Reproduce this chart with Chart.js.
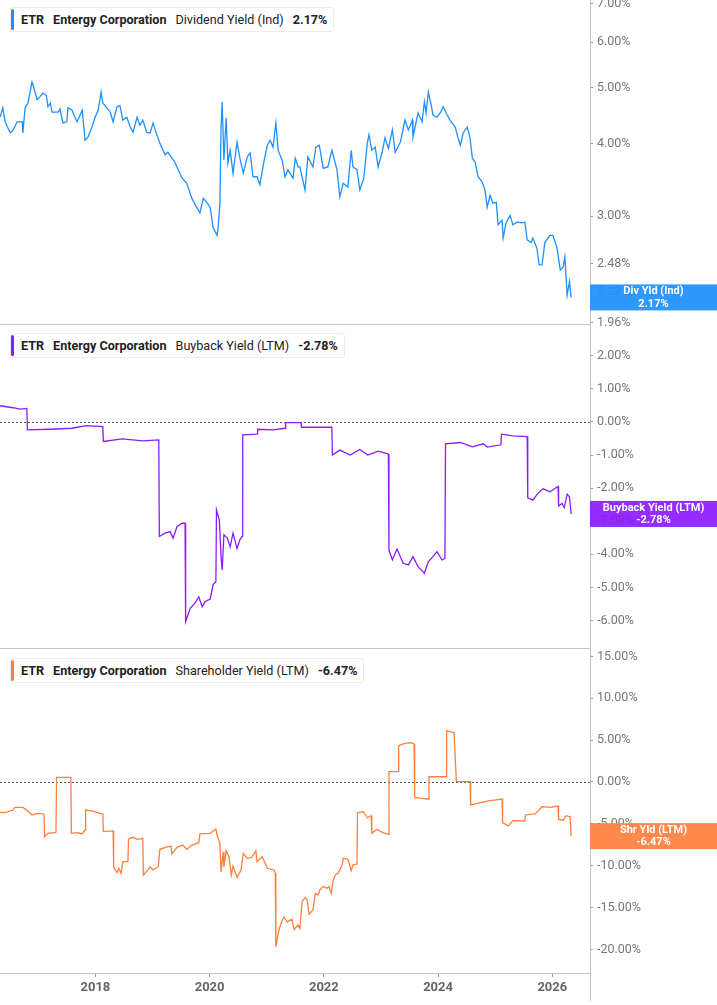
<!DOCTYPE html>
<html>
<head>
<meta charset="utf-8">
<script src="https://cdn.jsdelivr.net/npm/chart.js@4.4.1/dist/chart.umd.min.js"></script>
<style>
html, body { margin: 0; padding: 0; background: #fff; }
body { width: 717px; height: 1005px; position: relative; overflow: hidden; font-family: Roboto, "Noto Sans", sans-serif; }
canvas { position: absolute; left: 0; }
.legend { position: absolute; left: 10px; height: 25px; display: flex; align-items: center; background: #fff;
  border: 1px solid #ececec; border-radius: 3px; padding: 0 6px 0 10px; font-size: 12.6px; color: #222;
  white-space: nowrap; z-index: 5; box-sizing: border-box; }
.legend::before { content: ''; position: absolute; left: 0; top: 1px; bottom: 1px; width: 3px; border-radius: 2px; background: var(--c); }
.legend span { margin-right: 9px; }
.legend span:last-child { margin-right: 0; }
.legend .b { font-weight: 700; }
</style>
</head>
<body>
<canvas id="c3" width="717" height="356" style="top:649px"></canvas>
<canvas id="c2" width="717" height="335" style="top:325px"></canvas>
<canvas id="c1" width="717" height="335" style="top:0px"></canvas>

<div class="legend" style="top:7px;--c:#1e90ff"><span class="b">ETR</span><span class="b">Entergy Corporation</span><span>Dividend Yield (Ind)</span><span class="b">2.17%</span></div>
<div class="legend" style="top:333px;--c:#8c1cff"><span class="b">ETR</span><span class="b">Entergy Corporation</span><span>Buyback Yield (LTM)</span><span class="b">-2.78%</span></div>
<div class="legend" style="top:658px;--c:#ff7f3f"><span class="b">ETR</span><span class="b">Entergy Corporation</span><span>Shareholder Yield (LTM)</span><span class="b">-6.47%</span></div>

<script>
// dates are decimal years
const divDates = [2016.33,2016.38,2016.42,2016.51,2016.56,2016.63,2016.72,2016.73,2016.77,2016.82,2016.89,2016.91,2016.98,
  2017.03,2017.08,2017.14,2017.17,2017.21,2017.24,2017.35,2017.38,2017.43,2017.50,2017.52,2017.59,2017.64,2017.68,2017.77,2017.82,2017.87,2017.94,2017.99,
  2018.05,2018.10,2018.13,2018.20,2018.26,2018.31,2018.38,2018.43,2018.48,2018.55,2018.61,2018.66,2018.73,2018.78,2018.83,2018.90,2018.96,
  2019.01,2019.06,2019.13,2019.22,2019.27,2019.34,2019.39,2019.45,2019.52,2019.60,2019.69,2019.78,2019.83,2019.89,2019.96,
  2020.01,2020.06,2020.13,2020.15,2020.18,2020.20,2020.22,2020.25,2020.29,2020.32,2020.36,2020.41,2020.48,2020.53,2020.59,2020.66,2020.71,2020.76,2020.83,2020.88,2020.94,
  2021.01,2021.06,2021.11,2021.16,2021.20,2021.27,2021.32,2021.37,2021.46,2021.50,2021.55,2021.58,2021.67,2021.72,2021.81,2021.86,2021.92,2021.99,
  2022.07,2022.14,2022.23,2022.28,2022.34,2022.42,2022.48,2022.51,2022.58,2022.63,2022.70,2022.76,2022.79,2022.84,2022.90,2022.95,
  2023.02,2023.07,2023.13,2023.20,2023.25,2023.34,2023.42,2023.48,2023.55,2023.56,2023.65,2023.72,2023.76,2023.79,2023.83,2023.88,2023.91,2023.98,
  2024.04,2024.09,2024.16,2024.21,2024.30,2024.35,2024.39,2024.44,2024.51,2024.56,2024.60,2024.65,2024.70,2024.77,2024.82,2024.86,2024.91,2024.96,
  2025.02,2025.05,2025.12,2025.14,2025.19,2025.26,2025.31,2025.38,2025.47,2025.52,2025.56,2025.63,2025.66,2025.73,2025.77,2025.82,2025.87,2025.96,
  2026.01,2026.08,2026.14,2026.19,2026.22,2026.26,2026.30,2026.33];
const divValues = [4.45,4.62,4.37,4.18,4.23,4.37,4.37,4.18,4.62,4.71,5.12,5.06,4.77,
  4.83,4.90,4.86,4.64,4.71,4.54,4.54,4.60,4.35,4.37,4.62,4.58,4.45,4.37,4.58,4.06,4.11,4.28,4.44,
  4.58,4.92,4.71,4.62,4.54,4.37,4.64,4.66,4.40,4.45,4.28,4.19,4.45,4.31,4.40,4.19,4.18,
  4.35,4.19,4.01,3.83,3.87,3.78,3.72,3.61,3.49,3.42,3.22,3.10,3.04,3.22,3.16,
  3.11,2.87,2.78,2.87,3.16,4.26,4.73,3.75,4.44,3.71,3.90,3.56,4.03,3.78,3.56,3.80,3.86,3.51,3.51,3.40,3.68,
  3.98,4.06,3.95,4.35,3.90,3.75,3.51,3.61,3.49,3.78,3.65,3.65,3.33,3.80,3.65,3.95,3.98,3.63,
  3.65,3.90,3.61,3.24,3.42,3.37,3.90,3.65,3.61,3.33,3.49,4.01,4.15,3.90,3.95,3.65,
  3.87,4.10,3.93,4.23,3.87,4.03,4.40,4.23,4.40,4.11,4.53,4.37,4.73,4.53,4.92,4.67,4.49,4.45,
  4.53,4.64,4.49,4.40,4.28,4.10,3.98,4.18,4.28,4.10,3.78,3.72,3.51,3.44,3.33,3.11,3.26,3.16,
  3.17,2.90,2.95,2.75,2.92,3.01,2.90,2.93,2.92,2.93,2.73,2.70,2.75,2.64,2.47,2.47,2.70,2.78,
  2.78,2.65,2.42,2.45,2.55,2.19,2.31,2.17];

const buyDates = [2016.33,2016.56,2016.68,2016.80,2016.81,2017.21,2017.59,2017.84,2018.13,2018.14,2018.47,2018.83,2019.11,
  2019.12,2019.22,2019.31,2019.36,2019.43,2019.52,2019.57,2019.58,2019.66,2019.74,2019.81,2019.87,2019.92,
  2020.01,2020.06,2020.11,2020.12,2020.17,2020.20,2020.22,2020.25,2020.31,2020.36,2020.41,2020.48,2020.53,2020.57,2020.58,
  2020.83,2020.84,2021.11,2021.32,2021.33,2021.60,2021.61,2022.14,2022.15,2022.28,2022.46,2022.63,2022.77,2022.95,2023.13,
  2023.14,2023.20,2023.28,2023.39,2023.48,2023.56,2023.65,2023.76,2023.83,2023.91,2023.98,2024.07,2024.12,
  2024.13,2024.39,2024.60,2024.79,2024.86,2025.10,2025.11,2025.31,2025.56,
  2025.57,2025.66,2025.75,2025.84,2025.96,2026.10,2026.11,2026.17,2026.21,2026.26,2026.30,2026.33];
const buyValues = [0.49,0.43,0.39,0.41,-0.24,-0.22,-0.19,-0.11,-0.14,-0.59,-0.51,-0.57,-0.54,
  -3.46,-3.36,-3.31,-3.51,-3.16,-3.06,-3.06,-6.03,-5.63,-5.48,-5.28,-5.58,-5.43,
  -5.35,-4.92,-4.82,-2.66,-2.96,-4.07,-4.47,-3.41,-3.51,-3.77,-3.36,-3.82,-3.56,-3.46,-0.39,
  -0.37,-0.22,-0.24,-0.19,-0.02,-0.02,-0.16,-0.16,-1.00,-0.85,-1.00,-0.83,-1.00,-0.88,-0.97,
  -3.87,-4.17,-3.84,-4.27,-4.32,-4.07,-4.37,-4.57,-4.22,-4.07,-3.92,-4.17,-4.12,
  -0.66,-0.62,-0.75,-0.66,-0.76,-0.69,-0.37,-0.42,-0.44,
  -2.29,-2.36,-2.15,-2.02,-2.11,-1.95,-2.54,-2.46,-2.59,-2.18,-2.26,-2.78];

const shrDates = [2016.33,2016.42,2016.56,2016.59,2016.73,2016.80,2016.89,2016.98,2017.10,2017.11,2017.17,2017.31,
  2017.32,2017.57,2017.58,2017.68,2017.77,2017.82,2017.83,2017.94,2018.08,2018.13,2018.14,2018.31,
  2018.32,2018.38,2018.41,2018.45,2018.48,2018.57,2018.58,2018.66,2018.73,2018.83,2018.84,2018.92,2018.96,2019.01,2019.10,
  2019.13,2019.22,2019.32,2019.34,2019.43,2019.53,2019.60,2019.69,2019.81,2019.83,2020.01,2020.11,2020.13,2020.18,
  2020.20,2020.24,2020.25,2020.29,2020.34,2020.38,2020.41,2020.48,2020.55,2020.59,2020.66,2020.74,2020.81,2020.83,2020.92,
  2021.01,2021.13,2021.15,2021.16,2021.22,2021.30,2021.36,2021.44,2021.48,2021.55,2021.58,2021.62,2021.67,2021.71,2021.74,
  2021.81,2021.85,2021.90,2021.93,2021.99,2022.06,2022.09,2022.13,2022.16,2022.20,2022.25,2022.32,2022.34,2022.42,2022.48,
  2022.51,2022.58,2022.59,2022.69,2022.76,2022.83,2022.84,2022.93,2023.02,2023.13,2023.14,2023.30,2023.31,2023.42,2023.51,
  2023.58,2023.59,2023.72,2023.83,2023.84,2024.14,2024.15,2024.21,2024.28,2024.32,2024.56,2024.57,2024.74,2024.91,2025.12,
  2025.13,2025.23,2025.31,2025.52,2025.53,2025.70,2025.82,2025.96,2026.10,2026.11,2026.19,2026.24,2026.31,2026.33];
const shrValues = [-3.62,-3.67,-3.35,-3.03,-3.03,-3.35,-3.94,-3.74,-3.82,-6.53,-6.13,-6.01,
  0.56,0.56,-6.13,-6.06,-6.21,-5.73,-3.35,-3.46,-3.74,-3.82,-5.93,-5.85,
  -10.20,-10.83,-10.31,-10.91,-9.52,-9.52,-6.81,-6.61,-6.85,-6.73,-11.11,-10.51,-10.12,-10.51,-10.12,
  -8.04,-7.80,-7.65,-8.60,-7.80,-7.53,-8.04,-7.53,-7.25,-6.21,-6.13,-5.62,-6.33,-7.33,
  -10.71,-8.33,-10.12,-8.21,-8.92,-11.11,-10.04,-11.39,-10.51,-8.52,-9.12,-9.00,-8.21,-9.52,-8.92,
  -10.31,-10.51,-10.91,-19.68,-17.48,-16.10,-16.70,-16.40,-17.60,-17.10,-17.50,-14.30,-13.80,-14.10,-15.80,
  -15.30,-13.30,-13.50,-12.90,-12.50,-12.70,-12.50,-13.30,-11.90,-11.10,-10.90,-9.90,-9.10,-9.20,-10.60,
  -9.90,-9.80,-3.67,-3.55,-4.27,-4.03,-6.13,-5.65,-6.01,-6.25,1.23,1.23,4.34,4.62,4.70,
  4.54,-1.83,-1.95,-2.03,0.63,0.63,6.13,6.01,5.89,0.04,0.04,-2.75,-2.47,-2.23,-2.03,
  -4.86,-5.26,-4.62,-4.66,-3.94,-3.82,-2.95,-3.02,-2.87,-4.46,-4.54,-4.03,-4.15,-6.47];

const yearTicks = [2018, 2020, 2022, 2024, 2026];
const divTicks = [1.96, 2.22, 2.48, 3, 4, 5, 6, 7];
const buyTicks = [-6, -5, -4, -3, -2, -1, 0, 1, 2];
const shrTicks = [-20, -15, -10, -5, 0, 5, 10, 15];

const FONT = 'Roboto, "Noto Sans", sans-serif';
const X_MIN = 2016.33, X_MAX = 2026.66;

function points(dates, values) {
  return dates.map((d, i) => ({ x: d, y: values[i] }));
}

// right-hand tag with the last value
const tagPlugin = {
  id: 'tag',
  afterDraw(chart, args, opts) {
    const { ctx, chartArea: a } = chart;
    const y = chart.scales.y.getPixelForValue(opts.value);
    const cx = (a.right + chart.width) / 2;
    ctx.save();
    ctx.globalAlpha = 0.93;
    ctx.fillStyle = opts.color;
    ctx.fillRect(a.right, y - 13, chart.width - a.right, 26);
    ctx.globalAlpha = 1;
    ctx.fillStyle = '#fff';
    ctx.font = 'bold 11px ' + FONT;
    ctx.textAlign = 'center';
    ctx.textBaseline = 'middle';
    ctx.fillText(opts.label, cx, y - 6);
    ctx.fillText(opts.text, cx, y + 6.5);
    ctx.restore();
  }
};

// zero line and panel separators
const framePlugin = {
  id: 'frame',
  beforeDatasetsDraw(chart, args, opts) {
    const { ctx, chartArea: a } = chart;
    ctx.save();
    if (opts.zero) {
      const y = Math.round(chart.scales.y.getPixelForValue(0)) + 0.5;
      ctx.strokeStyle = '#555';
      ctx.lineWidth = 1;
      ctx.setLineDash([2, 2]);
      ctx.beginPath(); ctx.moveTo(a.left, y); ctx.lineTo(a.right, y); ctx.stroke();
      ctx.setLineDash([]);
    }
    ctx.strokeStyle = '#c4c4c4';
    ctx.lineWidth = 1;
    if (opts.bottom) {
      ctx.beginPath(); ctx.moveTo(0, a.bottom + 0.5); ctx.lineTo(a.right, a.bottom + 0.5); ctx.stroke();
    }
    if (opts.extend) {
      ctx.beginPath(); ctx.moveTo(a.right + 0.5, a.bottom); ctx.lineTo(a.right + 0.5, chart.height - 4); ctx.stroke();
    }
    ctx.restore();
  }
};

function makeChart(id, cfg) {
  const yScale = Object.assign({
    position: 'right',
    afterBuildTicks: s => { s.ticks = cfg.ticks.map(v => ({ value: v })); },
    afterFit: s => { s.width = 127; s.paddingTop = 0; s.paddingBottom = 0; },
    ticks: {
      autoSkip: false,
      padding: 4,
      color: '#777',
      font: { size: 12.5, family: FONT },
      callback: v => Number(v).toFixed(2) + '%'
    },
    grid: { drawOnChartArea: false, tickLength: 3, color: '#999' },
    border: { color: '#c4c4c4', width: 1 }
  }, cfg.y);

  return new Chart(document.getElementById(id), {
    type: 'line',
    data: {
      datasets: [{
        data: points(cfg.dates, cfg.values),
        borderColor: cfg.color,
        borderWidth: 1.3,
        pointRadius: 0,
        tension: 0,
        fill: false
      }]
    },
    options: {
      responsive: false,
      animation: false,
      events: [],
      layout: { padding: { left: 0, top: 0, right: 0, bottom: cfg.padBottom } },
      scales: {
        x: {
          type: 'linear',
          min: X_MIN,
          max: X_MAX,
          display: cfg.showX,
          afterBuildTicks: s => { s.ticks = yearTicks.map(v => ({ value: v })); },
          afterFit: s => {
            if (!cfg.showX) return;
            s.height = 32; s.paddingLeft = 0; s.paddingRight = 0;
          },
          ticks: {
            autoSkip: false,
            maxRotation: 0,
            padding: 3,
            color: '#666',
            font: { size: 13, weight: 'bold', family: FONT },
            callback: v => String(v)
          },
          grid: { drawOnChartArea: false, tickLength: 4, color: '#999' },
          border: { color: '#c4c4c4', width: 1 }
        },
        y: yScale
      },
      plugins: {
        legend: { display: false },
        tooltip: { enabled: false },
        frame: cfg.frame,
        tag: cfg.tag
      }
    },
    plugins: [framePlugin, tagPlugin]
  });
}

makeChart('c1', {
  dates: divDates, values: divValues, color: '#1e90ff', ticks: divTicks,
  y: { type: 'logarithmic', min: 1.952, max: 7.10 },
  showX: false, padBottom: 11,
  frame: { zero: false, bottom: true },
  tag: { value: divValues[divValues.length - 1], color: '#1e90ff', label: 'Div Yld (Ind)', text: '2.17%' }
});

makeChart('c2', {
  dates: buyDates, values: buyValues, color: '#8c1cff', ticks: buyTicks,
  y: { type: 'linear', min: -6.83, max: 2.93 },
  showX: false, padBottom: 12,
  frame: { zero: true, bottom: true },
  tag: { value: buyValues[buyValues.length - 1], color: '#8c1cff', label: 'Buyback Yield (LTM)', text: '-2.78%' }
});

makeChart('c3', {
  dates: shrDates, values: shrValues, color: '#ff7f3f', ticks: shrTicks,
  y: { type: 'linear', min: -22.82, max: 15.89 },
  showX: true, padBottom: 0,
  frame: { zero: true, bottom: false, extend: true },
  tag: { value: shrValues[shrValues.length - 1], color: '#ff7f3f', label: 'Shr Yld (LTM)', text: '-6.47%' }
});
</script>
</body>
</html>
